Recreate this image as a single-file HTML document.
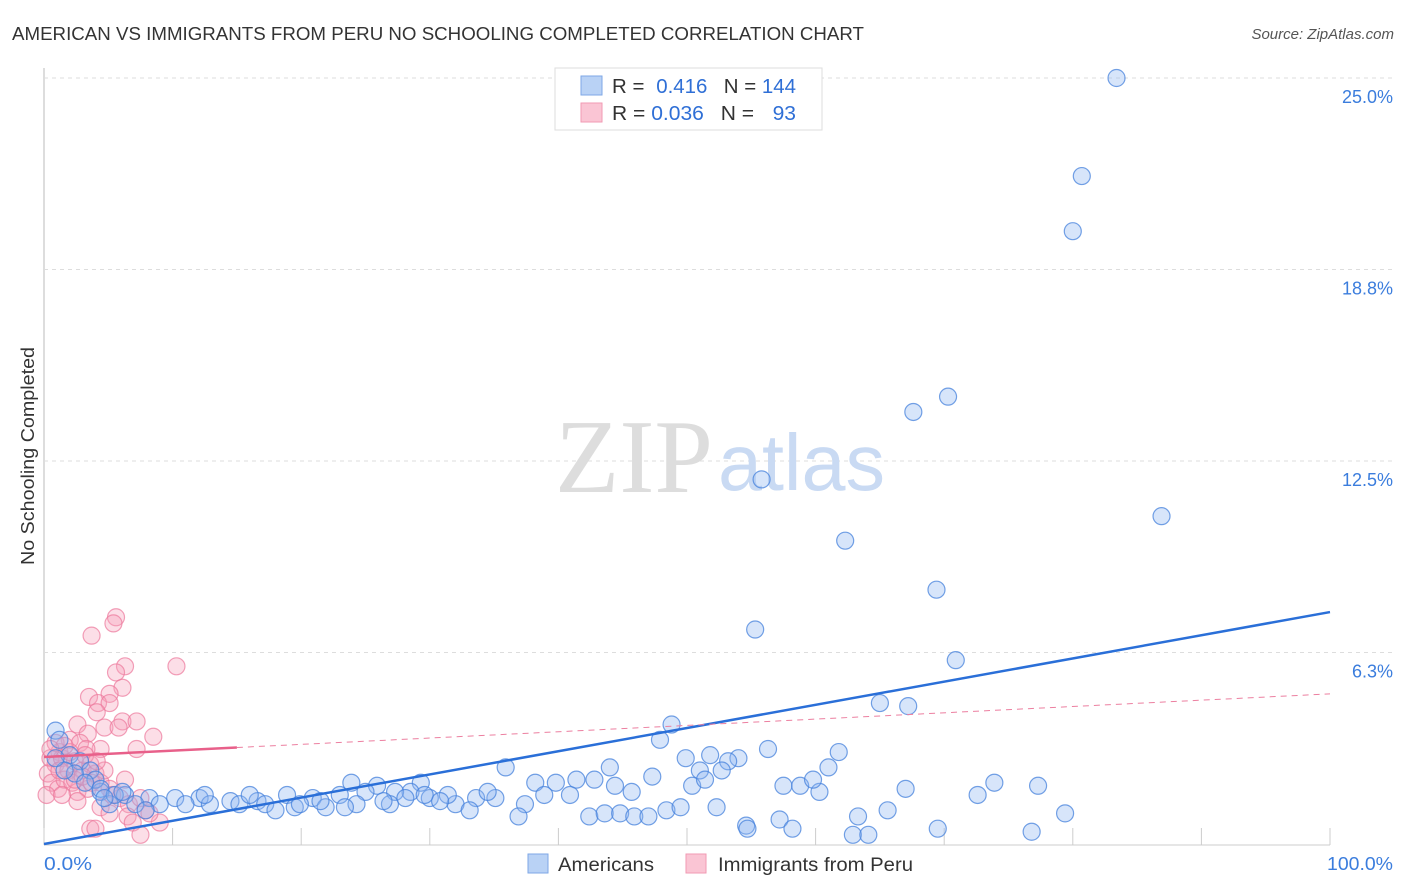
<!DOCTYPE html>
<html><head><meta charset="utf-8"><style>
body{margin:0;background:#fff;font-family:"Liberation Sans",sans-serif}
svg{display:block}
</style></head><body>
<svg width="1406" height="892">
<text x="12" y="40" font-size="18" fill="#333" textLength="852" lengthAdjust="spacingAndGlyphs">AMERICAN VS IMMIGRANTS FROM PERU NO SCHOOLING COMPLETED CORRELATION CHART</text>
<text x="1394" y="39" font-size="15" fill="#555" font-style="italic" text-anchor="end">Source: ZipAtlas.com</text>
<text x="34" y="456" font-size="18" fill="#333" text-anchor="middle" textLength="218" lengthAdjust="spacingAndGlyphs" transform="rotate(-90 34 456)">No Schooling Completed</text>
<g id="grid"></g>
<text x="555" y="492" font-size="105" font-family="Liberation Serif,serif" fill="#ddd" textLength="158" lengthAdjust="spacingAndGlyphs">ZIP</text>
<text x="718" y="490" font-size="80" fill="#c9daf3" textLength="167" lengthAdjust="spacingAndGlyphs">atlas</text>
<g id="pts"></g>
<g id="lines"></g>
<g>
<rect x="555" y="68" width="267" height="62" fill="#fff" stroke="#ddd"/>
<rect x="581" y="76" width="21" height="19" fill="#b9d2f5" stroke="#7ea7e6"/>
<rect x="581" y="103" width="21" height="19" fill="#fac5d4" stroke="#f19ab3"/>
<text x="612" y="93" font-size="20" fill="#333" textLength="184" lengthAdjust="spacingAndGlyphs">R = <tspan fill="#2f6fd6" dx="6">0.416</tspan><tspan dx="16" fill="#333">N = </tspan><tspan fill="#2f6fd6">144</tspan></text>
<text x="612" y="120" font-size="20" fill="#333" textLength="184" lengthAdjust="spacingAndGlyphs">R = <tspan fill="#2f6fd6">0.036</tspan><tspan dx="16" fill="#333">N = </tspan><tspan fill="#2f6fd6" dx="12">93</tspan></text>
</g>
<g>
<rect x="528" y="854" width="20" height="19" fill="#b9d2f5" stroke="#7ea7e6"/>
<text x="558" y="871" font-size="19" fill="#333" textLength="96" lengthAdjust="spacingAndGlyphs">Americans</text>
<rect x="686" y="854" width="20" height="19" fill="#fac5d4" stroke="#f19ab3"/>
<text x="718" y="871" font-size="19" fill="#333" textLength="195" lengthAdjust="spacingAndGlyphs">Immigrants from Peru</text>
</g>
<text x="44" y="870" font-size="18" fill="#3b7ddd" textLength="48" lengthAdjust="spacingAndGlyphs">0.0%</text>
<text x="1393" y="870" font-size="18" fill="#3b7ddd" text-anchor="end" textLength="66" lengthAdjust="spacingAndGlyphs">100.0%</text>
</svg>
<script>
const yTicks=[25,18.75,12.5,6.25];
const yTickLabels=["25.0%","18.8%","12.5%","6.3%"];
const xTicks=[0,10,20,30,40,50,60,70,80,90,100];
const blueX=[83.4,80.7,80.0,67.6,70.3,55.8,86.9,62.3,69.4,55.3,70.9,65.0,67.2,48.8,47.9,56.3,61.8,54.0,51.8,49.9,53.2,51.0,52.7,44.0,61.0,35.9,73.9,77.3,72.6,67.0,57.5,58.8,60.3,59.8,50.4,51.4,47.3,42.8,41.4,39.8,38.2,44.4,45.7,40.9,38.9,37.4,36.9,42.4,43.6,44.8,45.9,47.0,48.4,49.5,52.3,57.2,54.6,54.7,58.2,63.3,65.6,62.9,64.1,69.5,76.8,79.4,
23.9,25.9,29.3,28.5,27.3,25.0,23.0,20.9,18.9,16.6,14.5,12.1,10.2,8.2,6.3,4.4,5.1,7.1,9.0,11.0,12.9,15.2,17.2,19.5,21.9,24.3,26.9,30.0,32.0,33.6,35.1,31.4,34.5,33.1,30.8,23.4,26.4,28.1,29.6,18.0,19.9,21.5,7.9,12.5,16.0,
0.9,1.2,2.0,2.8,3.6,2.4,1.6,4.0,3.2,4.4,5.5,0.9,4.7,6.1];
const blueY=[25.0,21.8,20.0,14.1,14.6,11.9,10.7,9.9,8.3,7.0,6.0,4.6,4.5,3.9,3.4,3.1,3.0,2.8,2.9,2.8,2.7,2.4,2.4,2.5,2.5,2.5,2.0,1.9,1.6,1.8,1.9,1.9,1.7,2.1,1.9,2.1,2.2,2.1,2.1,2.0,2.0,1.9,1.7,1.6,1.6,1.3,0.9,0.9,1.0,1.0,0.9,0.9,1.1,1.2,1.2,0.8,0.6,0.5,0.5,0.9,1.1,0.3,0.3,0.5,0.4,1.0,
2.0,1.9,2.0,1.7,1.7,1.7,1.6,1.5,1.6,1.4,1.4,1.5,1.5,1.5,1.6,1.7,1.3,1.3,1.3,1.3,1.3,1.3,1.3,1.2,1.2,1.3,1.3,1.5,1.3,1.5,1.5,1.6,1.7,1.1,1.4,1.2,1.4,1.5,1.6,1.1,1.3,1.4,1.1,1.6,1.6,
3.7,3.4,2.9,2.7,2.4,2.3,2.4,2.1,2.0,1.8,1.6,2.8,1.5,1.7];
const pinkX=[5.6,5.4,3.7,6.3,10.3,5.6,6.1,5.1,3.5,4.2,5.1,4.1,6.1,7.2,2.6,4.7,3.4,5.8,8.5,7.2,4.4,2.0,2.8,3.3,1.2,
0.5,0.9,1.4,1.9,2.4,3.0,3.6,4.0,0.3,0.6,1.1,1.6,2.2,2.6,3.4,0.2,4.4,4.7,1.2,2.0,3.2,4.1,6.3,5.1,5.9,6.6,7.5,7.9,6.5,6.9,9.0,8.2,3.6,4.0,7.5,2.6,4.4,5.1,5.3,0.9,1.6,0.5,2.4,3.0,3.7,1.4];
const pinkY=[7.4,7.2,6.8,5.8,5.8,5.6,5.1,4.9,4.8,4.6,4.6,4.3,4.0,4.0,3.9,3.8,3.6,3.8,3.5,3.1,3.1,3.4,3.3,3.1,3.0,
2.8,2.6,2.8,2.4,2.7,2.4,2.6,2.3,2.3,2.0,1.8,2.1,2.0,1.7,1.8,1.6,2.0,2.4,2.4,3.0,2.9,2.7,2.1,1.8,1.5,1.3,1.5,1.1,0.9,0.7,0.7,1.0,0.5,0.5,0.3,1.4,1.2,1.0,1.6,3.3,3.2,3.1,2.1,2.2,2.0,1.6];
const blueFit=[0.0,7.57];
const pinkFit=[2.84,4.9];
const pinkSolidEnd=15;
const NS="http://www.w3.org/2000/svg";
const X=v=>44+v*12.86, Y=v=>844-v*30.64;
function mk(t,a,p){const e=document.createElementNS(NS,t);for(const k in a)e.setAttribute(k,a[k]);p.appendChild(e);return e;}
const grid=document.getElementById('grid');
const ax=mk('line',{x1:44,y1:68,x2:44,y2:845,stroke:'#bbb'},grid);


const bx=mk('line',{x1:44,y1:845,x2:1330,y2:845,stroke:'#ccc'},grid);


yTicks.forEach((t,i)=>{
 const g=mk('line',{x1:44,y1:Y(t),x2:1393,y2:Y(t),stroke:'#ddd','stroke-dasharray':'4,4'},grid);
 
 
 const l=mk('text',{x:1393,y:Y(t)+25,'font-size':18,fill:'#3b7ddd','text-anchor':'end'},grid);
 l.textContent=yTickLabels[i];
 
 
});
xTicks.forEach(t=>{
 const g=mk('line',{x1:X(t),y1:828,x2:X(t),y2:845,stroke:'#ccc'},grid);
 
 
});
const pts=document.getElementById('pts');
pinkX.forEach((v,i)=>{
 const c=mk('circle',{cx:X(v),cy:Y(pinkY[i]),r:8.5,fill:'rgba(245,160,185,0.35)',stroke:'rgba(236,120,155,0.7)','stroke-width':1.2},pts);
 
 
});
blueX.forEach((v,i)=>{
 const c=mk('circle',{cx:X(v),cy:Y(blueY[i]),r:8.5,fill:'rgba(140,180,240,0.35)',stroke:'rgba(70,130,220,0.75)','stroke-width':1.2},pts);
 
 
});
const lines=document.getElementById('lines');
const bl=mk('line',{x1:X(0),y1:Y(blueFit[0]),x2:X(100),y2:Y(blueFit[1]),stroke:'#2a6fd8','stroke-width':2.5},lines);


const pe=pinkFit[0]+(pinkFit[1]-pinkFit[0])*pinkSolidEnd/100;
const pd=mk('line',{x1:X(pinkSolidEnd),y1:Y(pe),x2:X(100),y2:Y(pinkFit[1]),stroke:'#ec7fa0','stroke-width':1,'stroke-dasharray':'6,5'},lines);


const ps=mk('line',{x1:X(0),y1:Y(pinkFit[0]),x2:X(pinkSolidEnd),y2:Y(pe),stroke:'#e8608a','stroke-width':2.5},lines);


</script>
</body></html>
